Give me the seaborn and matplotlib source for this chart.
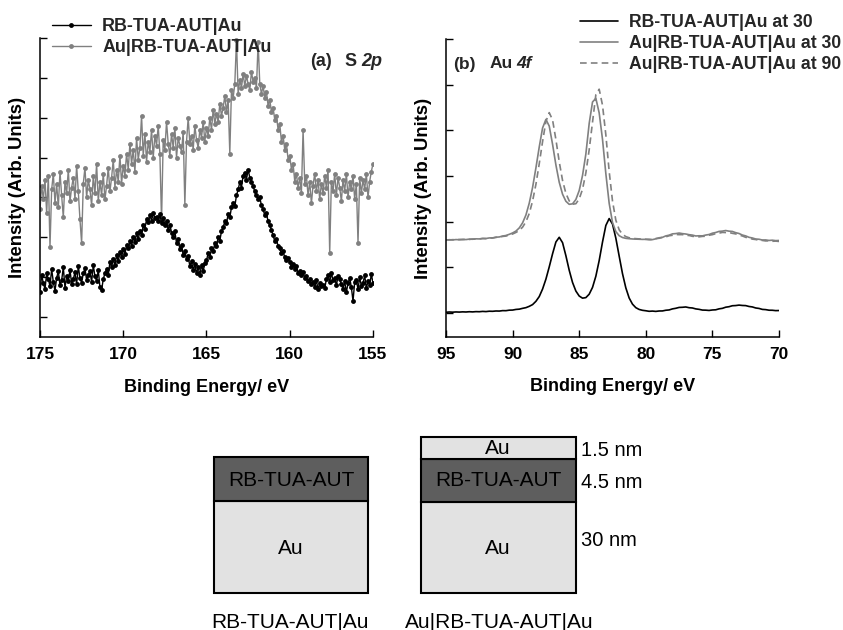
import numpy as np
import pandas as pd
import matplotlib
matplotlib.use("Agg")
import matplotlib.pyplot as plt
import seaborn as sns
from matplotlib.patches import Rectangle
from matplotlib.lines import Line2D

# ---------------- data: panel (a) S 2p ----------------
s2p_energy = np.linspace(175.0, 155.0, 201)
s2p_rb = [
    0.62, 1.05, 0.85, 0.70, 1.10, 0.95, 0.78, 1.20, 0.88, 0.66,
    0.98, 1.15, 0.80, 0.92, 1.25, 0.74, 1.02, 0.90, 1.18, 0.84,
    0.95, 1.12, 0.82, 1.28, 0.97, 0.86, 1.10, 1.22, 0.93, 1.05,
    1.15, 0.88, 1.30, 1.02, 0.90, 1.18, 0.75, 0.68, 0.95, 1.10,
    1.20, 1.05, 1.38, 1.25, 1.45, 1.30, 1.55, 1.40, 1.62, 1.50,
    1.70, 1.58, 1.80, 1.72, 1.90, 1.78, 2.00, 1.88, 2.10, 1.95,
    2.15, 2.05, 2.30, 2.22, 2.45, 2.38, 2.55, 2.42, 2.60, 2.48,
    2.52, 2.40, 2.58, 2.35, 2.48, 2.30, 2.42, 2.18, 2.32, 2.12,
    2.00, 2.15, 1.85, 1.95, 1.70, 1.82, 1.55, 1.65, 1.45, 1.52,
    1.28, 1.40, 1.18, 1.32, 1.10, 1.25, 1.05, 1.30, 1.15, 1.35,
    1.42, 1.60, 1.50, 1.72, 1.65, 1.85, 1.78, 2.00, 1.92, 2.15,
    2.25, 2.40, 2.35, 2.58, 2.50, 2.75, 2.85, 2.78, 3.05, 3.20,
    3.38, 3.25, 3.55, 3.62, 3.45, 3.70, 3.50, 3.40, 3.28, 3.15,
    3.05, 2.95, 3.00, 2.80, 2.70, 2.55, 2.60, 2.40, 2.30, 2.18,
    2.05, 1.90, 1.95, 1.78, 1.72, 1.60, 1.65, 1.50, 1.42, 1.48,
    1.38, 1.25, 1.32, 1.20, 1.28, 1.10, 1.15, 1.05, 1.12, 0.98,
    1.02, 0.90, 0.95, 0.82, 0.88, 0.75, 0.92, 0.70, 0.85, 0.78,
    0.80, 0.72, 0.95, 1.05, 0.88, 1.10, 0.92, 0.98, 0.80, 1.02,
    0.95, 0.82, 0.70, 0.90, 0.62, 0.85, 0.98, 0.75, 0.40, 0.88,
    0.92, 0.70, 1.00, 0.78, 0.85, 1.05, 0.72, 0.90, 0.80, 1.08,
    0.85,
]
s2p_au = [
    2.70, 3.30, 2.95, 3.45, 2.60, 3.55, 1.75, 3.20, 3.60, 2.85,
    3.35, 2.75, 3.65, 3.05, 2.50, 3.40, 3.10, 3.70, 2.90, 3.25,
    3.50, 2.95, 3.80, 3.15, 2.45, 1.85, 3.35, 3.75, 3.00, 3.45,
    3.20, 2.80, 3.55, 3.10, 3.85, 2.90, 3.40, 3.05, 3.60, 2.95,
    3.30, 3.75, 3.15, 3.50, 3.95, 3.25, 3.70, 3.40, 4.05, 3.35,
    3.80, 3.55, 4.10, 3.70, 4.35, 3.85, 4.20, 3.65, 4.50, 3.95,
    4.25, 5.05, 4.05, 4.60, 3.90, 4.40, 4.15, 4.70, 4.00, 4.55,
    4.30, 4.80, 4.10, 2.40, 4.45, 4.20, 4.90, 4.35, 4.05, 4.60,
    4.25, 4.75, 4.00, 4.50, 4.30, 4.15, 4.65, 2.80, 4.40, 5.00,
    4.35, 4.55, 4.20, 4.80, 4.45, 4.25, 4.70, 4.50, 4.90, 4.40,
    4.75, 4.55, 5.00, 4.70, 5.20, 4.85, 5.10, 4.90, 5.35, 5.05,
    5.25, 5.55, 5.15, 5.45, 4.10, 5.70, 5.50, 5.85, 6.95, 5.60,
    5.95, 5.75, 6.10, 5.80, 6.05, 5.85, 5.70, 6.15, 5.90, 6.00,
    5.75, 6.90, 5.85, 5.60, 5.80, 5.50, 5.65, 5.30, 5.45, 5.15,
    5.25, 4.95, 5.05, 4.70, 4.85, 4.40, 4.55, 4.20, 4.35, 3.95,
    4.05, 3.70, 3.85, 3.40, 3.60, 3.25, 3.50, 3.10, 4.70, 3.35,
    3.55, 3.05, 3.40, 2.85, 3.30, 3.60, 3.15, 3.45, 2.95, 3.35,
    3.10, 3.55, 3.25, 3.70, 1.60, 3.40, 3.15, 3.60, 3.05, 3.50,
    3.25, 2.90, 3.45, 3.15, 3.60, 3.00, 3.40, 3.20, 3.55, 2.95,
    3.35, 1.85, 3.50, 3.10, 3.45, 3.20, 3.60, 3.00, 3.40, 3.65,
    3.85,
]
s2p_labels = ["RB-TUA-AUT|Au", "Au|RB-TUA-AUT|Au"]
s2p_ticks = [175, 170, 165, 160, 155]

# ---------------- data: panel (b) Au 4f ----------------
au4f_energy = np.linspace(95.0, 70.0, 101)
au4f_rb30 = [
    0.012, 0.018, 0.014, 0.019, 0.016, 0.021, 0.018, 0.024, 0.020, 0.026,
    0.024, 0.031, 0.027, 0.035, 0.033, 0.040, 0.038, 0.048, 0.047, 0.058,
    0.060, 0.074, 0.080, 0.098, 0.113, 0.142, 0.180, 0.252, 0.356, 0.521,
    0.737, 1.006, 1.293, 1.551, 1.655, 1.537, 1.252, 0.933, 0.665, 0.477,
    0.368, 0.321, 0.333, 0.408, 0.557, 0.802, 1.145, 1.551, 1.914, 2.065,
    1.945, 1.637, 1.244, 0.859, 0.547, 0.325, 0.190, 0.113, 0.074, 0.055,
    0.045, 0.033, 0.038, 0.031, 0.040, 0.041, 0.056, 0.063, 0.086, 0.099,
    0.118, 0.121, 0.128, 0.112, 0.106, 0.086, 0.076, 0.060, 0.058, 0.052,
    0.062, 0.066, 0.087, 0.098, 0.123, 0.134, 0.155, 0.159, 0.169, 0.161,
    0.158, 0.139, 0.129, 0.106, 0.096, 0.075, 0.070, 0.057, 0.056, 0.048,
    0.050,
]
au4f_au30 = [
    1.594, 1.602, 1.597, 1.605, 1.601, 1.609, 1.605, 1.615, 1.612, 1.621,
    1.619, 1.628, 1.628, 1.641, 1.642, 1.657, 1.662, 1.682, 1.694, 1.720,
    1.750, 1.791, 1.860, 1.972, 2.143, 2.402, 2.747, 3.175, 3.633, 4.050,
    4.238, 4.092, 3.693, 3.242, 2.862, 2.599, 2.445, 2.377, 2.388, 2.483,
    2.679, 3.010, 3.480, 4.150, 4.620, 4.700, 4.380, 3.800, 3.050, 2.400,
    1.980, 1.780, 1.690, 1.650, 1.632, 1.624, 1.618, 1.615, 1.612, 1.609,
    1.610, 1.600, 1.604, 1.621, 1.644, 1.654, 1.685, 1.701, 1.730, 1.736,
    1.748, 1.735, 1.727, 1.712, 1.703, 1.684, 1.688, 1.686, 1.704, 1.716,
    1.745, 1.760, 1.784, 1.790, 1.803, 1.789, 1.783, 1.756, 1.738, 1.704,
    1.685, 1.654, 1.640, 1.617, 1.612, 1.595, 1.597, 1.586, 1.591, 1.582,
    1.585,
]
au4f_au90 = [
    1.600, 1.596, 1.603, 1.599, 1.607, 1.604, 1.611, 1.608, 1.617, 1.614,
    1.619, 1.629, 1.626, 1.638, 1.639, 1.653, 1.656, 1.674, 1.682, 1.707,
    1.727, 1.761, 1.804, 1.877, 1.995, 2.176, 2.450, 2.815, 3.267, 3.752,
    4.192, 4.387, 4.227, 3.798, 3.311, 2.901, 2.618, 2.452, 2.379, 2.391,
    2.496, 2.707, 3.066, 3.574, 4.177, 4.780, 4.900, 4.550, 3.900, 3.100,
    2.450, 2.030, 1.820, 1.720, 1.670, 1.645, 1.632, 1.625, 1.620, 1.616,
    1.611, 1.613, 1.603, 1.628, 1.633, 1.653, 1.664, 1.689, 1.699, 1.716,
    1.713, 1.714, 1.695, 1.695, 1.676, 1.673, 1.665, 1.675, 1.678, 1.700,
    1.713, 1.735, 1.746, 1.762, 1.759, 1.760, 1.742, 1.729, 1.702, 1.684,
    1.654, 1.640, 1.615, 1.606, 1.589, 1.586, 1.575, 1.577, 1.568, 1.571,
    1.564,
]
au4f_labels = ["RB-TUA-AUT|Au at 30", "Au|RB-TUA-AUT|Au at 30", "Au|RB-TUA-AUT|Au at 90"]
au4f_ticks = [95, 90, 85, 80, 75, 70]

# ---------------- schematic text ----------------
layer_rb = "RB-TUA-AUT"
layer_au = "Au"
thickness_labels = ["1.5 nm", "4.5 nm", "30 nm"]
stack_captions = ["RB-TUA-AUT|Au", "Au|RB-TUA-AUT|Au"]

# ---------------- style ----------------
sns.set_theme(style="white")
plt.rcParams['font.family'] = ['Liberation Sans', 'DejaVu Sans']
plt.rcParams['axes.unicode_minus'] = False

BLACK = "#000000"
GRAY = "#808080"
DARK = "#5e5e5e"
LIGHT = "#e2e2e2"

W, H = 843, 630
fig = plt.figure(figsize=(W / 100, H / 100), dpi=100)
fig.patch.set_facecolor("white")


def fx(px):
    return px / W


def fy(py):
    return 1 - py / H


# schematic overlay axes (pixel coordinates)
ax_d = fig.add_axes([0, 0, 1, 1])
ax_d.set_xlim(0, W)
ax_d.set_ylim(H, 0)
ax_d.axis("off")

ax_a = fig.add_axes([fx(40), fy(337), fx(373) - fx(40), fy(38) - fy(337)])
ax_b = fig.add_axes([fx(446), fy(337), fx(779) - fx(446), fy(39) - fy(337)])

# ---------------- panel (a) ----------------
df_a = pd.DataFrame({
    "energy": np.concatenate([s2p_energy, s2p_energy]),
    "intensity": np.concatenate([s2p_rb, s2p_au]),
    "sample": [s2p_labels[0]] * len(s2p_rb) + [s2p_labels[1]] * len(s2p_au),
})
sns.lineplot(data=df_a, x="energy", y="intensity", hue="sample",
             hue_order=[s2p_labels[1], s2p_labels[0]],
             palette={s2p_labels[0]: BLACK, s2p_labels[1]: GRAY},
             estimator=None, marker="o", markersize=3.5, markeredgewidth=0,
             linewidth=1.0, legend=False, ax=ax_a)
ax_a.set_xlim(175, 155)
ax_a.set_ylim(-0.5, 7)
ax_a.set_xticks(s2p_ticks)
ax_a.set_xticklabels([str(t) for t in s2p_ticks])
ax_a.set_yticks(range(0, 8))

h_a = [Line2D([], [], color=BLACK, marker="o", markersize=3.5, markeredgewidth=0, lw=1.0),
       Line2D([], [], color=GRAY, marker="o", markersize=3.5, markeredgewidth=0, lw=1.0)]
ax_a.legend(h_a, s2p_labels, loc="upper left", bbox_to_anchor=(fx(52), fy(18)),
            bbox_transform=fig.transFigure, frameon=False, borderpad=0, borderaxespad=0,
            handlelength=2.15, handletextpad=0.65, labelspacing=0.23,
            prop=dict(weight="bold", size=12.9))

# ---------------- panel (b) ----------------
df_b = pd.DataFrame({
    "energy": np.concatenate([au4f_energy] * 3),
    "intensity": np.concatenate([au4f_rb30, au4f_au30, au4f_au90]),
    "sample": [au4f_labels[0]] * len(au4f_rb30) + [au4f_labels[1]] * len(au4f_au30)
              + [au4f_labels[2]] * len(au4f_au90),
})
sns.lineplot(data=df_b, x="energy", y="intensity", hue="sample", style="sample",
             hue_order=au4f_labels, style_order=au4f_labels,
             palette={au4f_labels[0]: BLACK, au4f_labels[1]: GRAY, au4f_labels[2]: GRAY},
             dashes={au4f_labels[0]: "", au4f_labels[1]: "", au4f_labels[2]: (4, 2.5)},
             estimator=None, linewidth=1.2, legend=False, ax=ax_b)
ax_b.set_xlim(95, 70)
ax_b.set_ylim(-0.53, 6)
ax_b.set_xticks(au4f_ticks)
ax_b.set_xticklabels([str(t) for t in au4f_ticks])
ax_b.set_yticks(range(0, 7))

h_b = [Line2D([], [], color=BLACK, lw=1.2),
       Line2D([], [], color=GRAY, lw=1.2),
       Line2D([], [], color=GRAY, lw=1.2, dashes=(4, 2.5))]
ax_b.legend(h_b, au4f_labels, loc="upper left", bbox_to_anchor=(fx(580), fy(14)),
            bbox_transform=fig.transFigure, frameon=False, borderpad=0, borderaxespad=0,
            handlelength=2.15, handletextpad=0.6, labelspacing=0.22,
            prop=dict(weight="bold", size=12.7))

# ---------------- common axis styling ----------------
for ax in (ax_a, ax_b):
    ax.set_facecolor("none")
    for side in ("top", "right"):
        ax.spines[side].set_visible(False)
    for side in ("left", "bottom"):
        ax.spines[side].set_visible(True)
        ax.spines[side].set_color(BLACK)
        ax.spines[side].set_linewidth(1.1)
    ax.tick_params(axis="both", which="major", direction="in", length=5, width=1,
                   color=BLACK, bottom=True, left=True, top=False, right=False)
    ax.tick_params(axis="x", labelsize=12.5, pad=7, labelcolor=BLACK)
    ax.tick_params(axis="y", labelleft=False)
    for lab in ax.get_xticklabels():
        lab.set_fontweight("bold")
    ax.grid(False)
    ax.set_xlabel("Binding Energy/ eV", fontsize=13, fontweight="bold", color=BLACK)
    ax.set_ylabel("Intensity (Arb. Units)", fontsize=13.3, fontweight="bold", color=BLACK)
    ax.xaxis.label.set_va("center")
    ax.yaxis.label.set_va("center")
    ax.xaxis.set_label_coords(0.5, (337 - 387) / 299)
    ax.yaxis.set_label_coords(-22 / 333, 0.5)

# panel titles
fig.text(fx(310), fy(61), "(a)", ha="left", va="center", fontsize=13, fontweight="bold")
fig.text(fx(344), fy(61), "S", ha="left", va="center", fontsize=13, fontweight="bold")
fig.text(fx(361), fy(61), "2p", ha="left", va="center", fontsize=13, fontweight="bold",
         fontstyle="italic")
fig.text(fx(453), fy(64), "(b)", ha="left", va="center", fontsize=12.5, fontweight="bold")
fig.text(fx(490), fy(64), "Au", ha="left", va="center", fontsize=12.5, fontweight="bold")
fig.text(fx(516), fy(64), "4f", ha="left", va="center", fontsize=12.5, fontweight="bold",
         fontstyle="italic")

# ---------------- schematic of the layer stacks ----------------
EW = 1.5
# left stack
ax_d.add_patch(Rectangle((214, 501), 154, 92, facecolor=LIGHT, edgecolor=BLACK, lw=EW))
ax_d.add_patch(Rectangle((214, 457), 154, 44, facecolor=DARK, edgecolor=BLACK, lw=EW))
ax_d.text(291, 480, layer_rb, ha="center", va="center", fontsize=15, color=BLACK)
ax_d.text(291, 548, layer_au, ha="center", va="center", fontsize=15, color=BLACK)
# right stack
ax_d.add_patch(Rectangle((421, 502), 155, 91, facecolor=LIGHT, edgecolor=BLACK, lw=EW))
ax_d.add_patch(Rectangle((421, 459), 155, 43, facecolor=DARK, edgecolor=BLACK, lw=EW))
ax_d.add_patch(Rectangle((421, 437), 155, 22, facecolor=LIGHT, edgecolor=BLACK, lw=EW))
ax_d.text(498, 449, layer_au, ha="center", va="center", fontsize=15, color=BLACK)
ax_d.text(498, 481, layer_rb, ha="center", va="center", fontsize=15, color=BLACK)
ax_d.text(498, 549, layer_au, ha="center", va="center", fontsize=15, color=BLACK)
# thickness labels
for lab, yy in zip(thickness_labels, [450, 482, 540]):
    ax_d.text(581, yy, lab, ha="left", va="center", fontsize=14.5, color=BLACK)
# captions
ax_d.text(290, 622, stack_captions[0], ha="center", va="center", fontsize=15, color=BLACK)
ax_d.text(499, 622, stack_captions[1], ha="center", va="center", fontsize=15, color=BLACK)

fig.savefig("out.png", dpi=100, facecolor="white")
